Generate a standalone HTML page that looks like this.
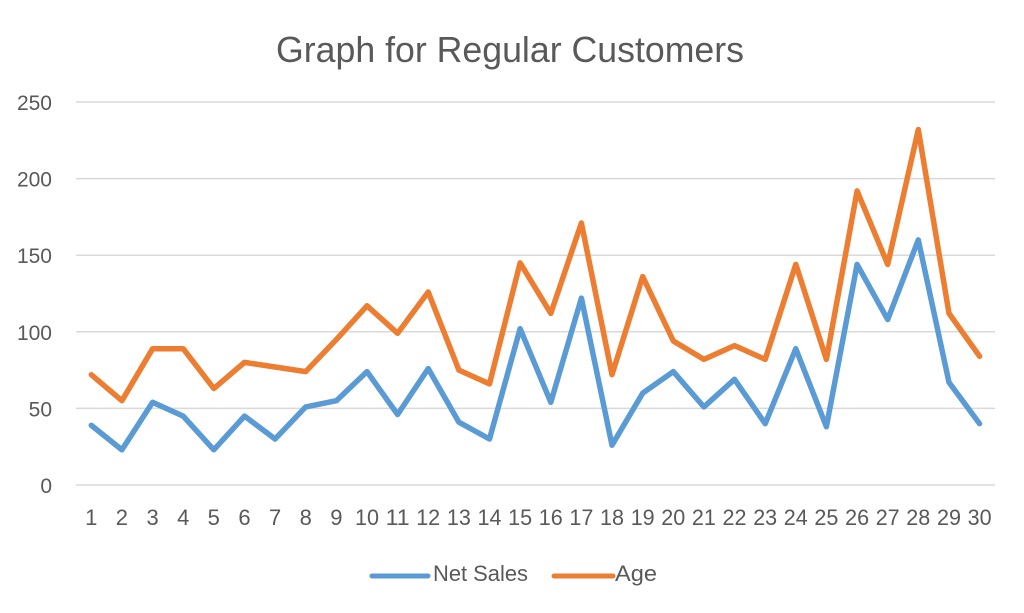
<!DOCTYPE html>
<html>
<head>
<meta charset="utf-8">
<style>
html,body{margin:0;padding:0;background:#fff;}
svg{display:block;}
text{font-family:"Liberation Sans",Arial,sans-serif;fill:#595959;}
</style>
</head>
<body>
<svg width="1024" height="613" viewBox="0 0 1024 613" xmlns="http://www.w3.org/2000/svg">
<rect width="1024" height="613" fill="#fff"/>
<text x="510" y="62" font-size="36" text-anchor="middle" textLength="468" lengthAdjust="spacingAndGlyphs">Graph for Regular Customers</text>
<g stroke="#d9d9d9" stroke-width="1.5">
<line x1="76" y1="102" x2="995" y2="102"/>
<line x1="76" y1="178.6" x2="995" y2="178.6"/>
<line x1="76" y1="255.2" x2="995" y2="255.2"/>
<line x1="76" y1="331.8" x2="995" y2="331.8"/>
<line x1="76" y1="408.4" x2="995" y2="408.4"/>
<line x1="76" y1="485" x2="995" y2="485"/>
</g>
<g font-size="21" text-anchor="end">
<text x="52" y="110">250</text>
<text x="52" y="186.6">200</text>
<text x="52" y="263.2">150</text>
<text x="52" y="339.8">100</text>
<text x="52" y="416.4">50</text>
<text x="52" y="493">0</text>
</g>
<g font-size="22" text-anchor="middle">
<text x="91.3" y="525">1</text>
<text x="121.9" y="525">2</text>
<text x="152.6" y="525">3</text>
<text x="183.2" y="525">4</text>
<text x="213.8" y="525">5</text>
<text x="244.5" y="525">6</text>
<text x="275.1" y="525">7</text>
<text x="305.7" y="525">8</text>
<text x="336.4" y="525">9</text>
<text x="367.0" y="525" textLength="24" lengthAdjust="spacingAndGlyphs">10</text>
<text x="397.6" y="525" textLength="24" lengthAdjust="spacingAndGlyphs">11</text>
<text x="428.2" y="525" textLength="24" lengthAdjust="spacingAndGlyphs">12</text>
<text x="458.9" y="525" textLength="24" lengthAdjust="spacingAndGlyphs">13</text>
<text x="489.5" y="525" textLength="24" lengthAdjust="spacingAndGlyphs">14</text>
<text x="520.1" y="525" textLength="24" lengthAdjust="spacingAndGlyphs">15</text>
<text x="550.8" y="525" textLength="24" lengthAdjust="spacingAndGlyphs">16</text>
<text x="581.4" y="525" textLength="24" lengthAdjust="spacingAndGlyphs">17</text>
<text x="612.0" y="525" textLength="24" lengthAdjust="spacingAndGlyphs">18</text>
<text x="642.7" y="525" textLength="24" lengthAdjust="spacingAndGlyphs">19</text>
<text x="673.3" y="525" textLength="24" lengthAdjust="spacingAndGlyphs">20</text>
<text x="703.9" y="525" textLength="24" lengthAdjust="spacingAndGlyphs">21</text>
<text x="734.5" y="525" textLength="24" lengthAdjust="spacingAndGlyphs">22</text>
<text x="765.2" y="525" textLength="24" lengthAdjust="spacingAndGlyphs">23</text>
<text x="795.8" y="525" textLength="24" lengthAdjust="spacingAndGlyphs">24</text>
<text x="826.4" y="525" textLength="24" lengthAdjust="spacingAndGlyphs">25</text>
<text x="857.1" y="525" textLength="24" lengthAdjust="spacingAndGlyphs">26</text>
<text x="887.7" y="525" textLength="24" lengthAdjust="spacingAndGlyphs">27</text>
<text x="918.3" y="525" textLength="24" lengthAdjust="spacingAndGlyphs">28</text>
<text x="949.0" y="525" textLength="24" lengthAdjust="spacingAndGlyphs">29</text>
<text x="979.6" y="525" textLength="24" lengthAdjust="spacingAndGlyphs">30</text>
</g>
<polyline fill="none" stroke="#ED7D31" stroke-width="5.5" stroke-linejoin="round" stroke-linecap="round"
points="91.3,374.7 121.9,400.7 152.6,348.7 183.2,348.7 213.8,388.5 244.5,362.4 275.1,367.0 305.7,371.6 336.4,339.5 367.0,305.8 397.6,333.3 428.2,292.0 458.9,370.1 489.5,383.9 520.1,262.9 550.8,313.4 581.4,223.0 612.0,374.7 642.7,276.6 673.3,341.0 703.9,359.4 734.5,345.6 765.2,359.4 795.8,264.4 826.4,359.4 857.1,190.9 887.7,264.4 918.3,129.6 949.0,313.4 979.6,356.3"/>
<polyline fill="none" stroke="#5B9BD5" stroke-width="5.5" stroke-linejoin="round" stroke-linecap="round"
points="91.3,425.3 121.9,449.8 152.6,402.3 183.2,416.1 213.8,449.8 244.5,416.1 275.1,439.0 305.7,406.9 336.4,400.7 367.0,371.6 397.6,414.5 428.2,368.6 458.9,422.2 489.5,439.0 520.1,328.7 550.8,402.3 581.4,298.1 612.0,445.2 642.7,393.1 673.3,371.6 703.9,406.9 734.5,379.3 765.2,423.7 795.8,348.7 826.4,426.8 857.1,264.4 887.7,319.5 918.3,239.9 949.0,382.4 979.6,423.7"/>
<line x1="372" y1="576" x2="428" y2="576" stroke="#5B9BD5" stroke-width="5" stroke-linecap="round"/>
<text x="433" y="581" font-size="22" textLength="95" lengthAdjust="spacingAndGlyphs">Net Sales</text>
<line x1="554" y1="576" x2="613" y2="576" stroke="#ED7D31" stroke-width="5" stroke-linecap="round"/>
<text x="615" y="581" font-size="22" textLength="42" lengthAdjust="spacingAndGlyphs">Age</text>
</svg>
</body>
</html>
